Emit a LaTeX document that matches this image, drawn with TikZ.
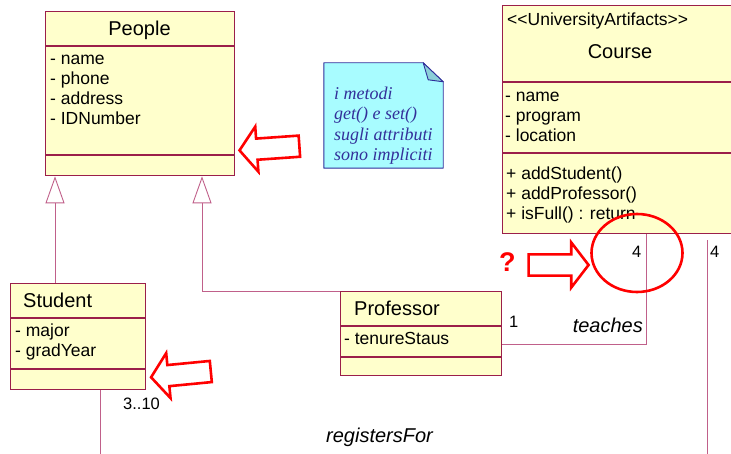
\documentclass[tikz,border=0pt]{standalone}
\usepackage{fontspec}
\setmainfont{Liberation Sans}
\newfontfamily\notefont{Liberation Serif}
\usepackage{xcolor}
\usepackage{tikz}
\usetikzlibrary{arrows.meta,positioning,shapes.arrows,shapes.geometric}
\definecolor{umlframe}{HTML}{9B1F4A}
\definecolor{umllink}{HTML}{C0608A}
\definecolor{umlfill}{HTML}{FFFFCC}
\definecolor{noteink}{HTML}{33309A}
\definecolor{noteedge}{HTML}{2E2E9A}
\definecolor{notefill}{HTML}{A8FCFF}
\definecolor{notefold}{HTML}{8CCFD8}
\definecolor{alert}{HTML}{FF0000}
\tikzset{
  part/.style={draw=umlframe, fill=umlfill, line width=1.1pt, inner sep=0pt, anchor=north west},
  cname/.style={font=\fontsize{20}{24}\selectfont, inner sep=0pt, anchor=base},
  members/.style={font=\fontsize{17.5}{20}\selectfont, align=left, inner sep=0pt, anchor=north west},
  gen/.style={-{Triangle[open, length=27pt, width=19pt]}, draw=umllink, line width=0.9pt},
  assoc/.style={draw=umllink, line width=0.9pt},
  role/.style={font=\itshape\fontsize{20}{24}\selectfont, inner sep=0pt},
  mult/.style={font=\fontsize{16.5}{20}\selectfont, inner sep=0pt, anchor=base west},
  hint/.style={single arrow, draw=alert, line width=2.6pt, inner xsep=0pt, inner ysep=9.3pt,
               minimum width=42.6pt, minimum height=60pt, single arrow head extend=12pt,
               single arrow tip angle=105},
  notebox/.style={draw=noteedge, fill=notefill, line width=0.9pt, line join=round},
  notefoldbox/.style={draw=noteedge, fill=notefold, line width=0.9pt, line join=round},
  notetext/.style={font=\notefont\itshape\fontsize{18}{20.3}\selectfont, text=noteink,
                   align=left, inner sep=0pt, anchor=north west}
}

\begin{document}
\begin{tikzpicture}[x=1pt, y=-1pt]
  \useasboundingbox (0,0) rectangle (731,454);

  %% People
  \node[part, minimum width=189pt, minimum height=34pt] (peopleT) at (45,11) {};
  \node[part, minimum width=189pt, minimum height=108pt, below=0pt of peopleT] (peopleA) {};
  \node[part, minimum width=189pt, minimum height=20pt, below=0pt of peopleA] (peopleO) {};
  \node[cname] (peopleName) at (139.5,36) {People};
  \node[members] (peopleAttr) at (50,50) {\strut- name\\- phone\\- address\\- IDNumber};

  %% Student
  \node[part, minimum width=135pt, minimum height=34pt] (studentT) at (10,283) {};
  \node[part, minimum width=135pt, minimum height=50pt, below=0pt of studentT] (studentA) {};
  \node[part, minimum width=135pt, minimum height=20pt, below=0pt of studentA] (studentO) {};
  \node[cname, anchor=base west] (studentName) at (23,308) {Student};
  \node[members] (studentAttr) at (15,322) {\strut- major\\- gradYear};

  %% Professor
  \node[part, minimum width=161pt, minimum height=34pt] (profT) at (340,291) {};
  \node[part, minimum width=161pt, minimum height=30pt, below=0pt of profT] (profA) {};
  \node[part, minimum width=161pt, minimum height=18pt, below=0pt of profA] (profO) {};
  \node[cname, anchor=base west] (profName) at (354,316) {Professor};
  \node[members] (profAttr) at (344,330) {\strut- tenureStaus};

  %% Course
  \node[part, minimum width=250pt, minimum height=76pt] (courseT) at (502,5) {};
  \node[part, minimum width=250pt, minimum height=70pt, below=0pt of courseT] (courseA) {};
  \node[part, minimum width=250pt, minimum height=80pt, below=0pt of courseA] (courseO) {};
  \node[members, anchor=base west] (courseStereo) at (507,26)
        {<\kern0pt<UniversityArtifacts>\kern0pt>};
  \node[cname] (courseName) at (620,59) {Course};
  \node[members] (courseAttr) at (505,87) {\strut- name\\- program\\- location};
  \node[members, font=\fontsize{17.5}{19.7}\selectfont] (courseOps) at (506,166)
        {\strut+ addStudent()\\+ addProfessor()\\+ isFull() : return};

  %% Note
  \node[minimum width=119pt, minimum height=105pt, inner sep=0pt] (note) at (383.5,115.5) {};
  \filldraw[notebox] (note.south west) -- (note.north west) -- ([xshift=-20pt]note.north east)
        -- ([yshift=-19pt]note.north east) -- (note.south east) -- cycle;
  \filldraw[notefoldbox] ([xshift=-20pt]note.north east) -- ([xshift=-15pt,yshift=-17pt]note.north east)
        -- ([yshift=-19pt]note.north east) -- cycle;
  \node[notetext] (noteText) at (334,85) {\strut i metodi\\get() e set()\\sugli attributi\\sono impliciti};

  %% Relations
  \draw[gen] ([xshift=45pt]studentT.north west) -- ([xshift=10pt]peopleO.south west);
  \draw[gen] (profT.north west) -| ([xshift=157pt]peopleO.south west);
  \draw[assoc] ([yshift=-3pt]profA.east) -| ([xshift=144pt]courseO.south west);
  \coordinate (regLeft) at (100,470);
  \coordinate (regRight) at (707,470);
  \draw[assoc] ([xshift=90pt]studentO.south west) -- (regLeft);
  \draw[assoc] ([xshift=205pt,yshift=-6pt]courseO.south west) -- (regRight);

  %% Labels
  \node[mult] (multStudent) at (123,409) {3..10};
  \node[mult] (multProf) at (509,327) {1};
  \node[mult] (multTeach) at (632,258) {4};
  \node[mult] (multReg) at (710,258) {4};
  \node[role, anchor=base east] (teachLbl) at (643,333) {teaches};
  \node[role, anchor=base west] (regLbl) at (326,442) {registersFor};

  %% Red marks
  \node[hint, rotate=184] (hintPeople) at (273.5,148) {};
  \node[hint, rotate=185.5] (hintStudent) at (185,374) {};
  \node[hint] (hintCourse) at (554.5,265) {};
  \node[font=\bfseries\fontsize{27}{30}\selectfont, text=alert, anchor=base west, inner sep=0pt]
        (query) at (499,272) {?};
  \node[ellipse, draw=alert, line width=2.6pt, minimum width=91pt, minimum height=78pt,
        inner sep=0pt] (focus) at (637,253) {};

\end{tikzpicture}
\end{document}
